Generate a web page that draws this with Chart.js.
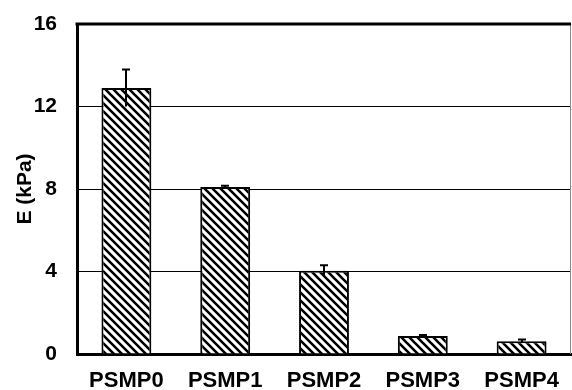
<!DOCTYPE html>
<html>
<head>
<meta charset="utf-8">
<script src="https://cdn.jsdelivr.net/npm/chart.js@4"></script>
<style>
html,body{margin:0;padding:0;background:#fff;overflow:hidden;}
#wrap{width:572px;height:390px;position:relative;}
</style>
</head>
<body>
<div id="wrap"><canvas id="c" width="572" height="390"></canvas></div>
<script>
const categories = ['PSMP0', 'PSMP1', 'PSMP2', 'PSMP3', 'PSMP4'];
const values = [12.9, 8.1, 4.04, 0.87, 0.62];
const errors = [0.9, 0.06, 0.26, 0.05, 0.08];
const yTicks = [0, 4, 8, 12, 16];
const yTitle = 'E (kPa)';

function hatch() {
  const s = 8;
  const p = document.createElement('canvas');
  p.width = s; p.height = s;
  const g = p.getContext('2d');
  g.fillStyle = '#fff';
  g.fillRect(0, 0, s, s);
  g.strokeStyle = '#000';
  g.lineWidth = 2.6;
  g.beginPath();
  g.moveTo(-1, -1); g.lineTo(s + 1, s + 1);
  g.moveTo(-1, s - 1); g.lineTo(1, s + 1);
  g.moveTo(s - 1, -1); g.lineTo(s + 1, 1);
  g.stroke();
  return g.createPattern(p, 'repeat');
}

const errorBars = {
  id: 'errorBars',
  afterDatasetsDraw(chart) {
    const ctx = chart.ctx;
    const meta = chart.getDatasetMeta(0);
    const y = chart.scales.y;
    ctx.save();
    ctx.strokeStyle = '#000';
    ctx.lineWidth = 2;
    meta.data.forEach((bar, i) => {
      const x = Math.round(bar.x);
      const hi = y.getPixelForValue(values[i] + errors[i]);
      const lo = y.getPixelForValue(values[i] - errors[i]);
      ctx.beginPath();
      ctx.moveTo(x, lo);
      ctx.lineTo(x, hi);
      ctx.moveTo(x - 4, hi);
      ctx.lineTo(x + 4, hi);
      ctx.stroke();
    });
    ctx.restore();
  }
};

const frame = {
  id: 'frame',
  afterDraw(chart) {
    const a = chart.chartArea;
    const ctx = chart.ctx;
    ctx.save();
    ctx.strokeStyle = '#888';
    ctx.lineWidth = 1;
    ctx.beginPath();
    ctx.moveTo(a.right - 0.5, a.top);
    ctx.lineTo(a.right - 0.5, a.bottom);
    ctx.stroke();
    ctx.strokeStyle = '#000';
    ctx.lineWidth = 3;
    ctx.beginPath();
    ctx.moveTo(a.left - 1.5, a.top);
    ctx.lineTo(a.right, a.top);
    ctx.stroke();
    ctx.restore();
  }
};

const fam = '"Liberation Sans", Arial, sans-serif';
const tickFont = {family: fam, size: 21, weight: 'bold'};
const xFont = {family: fam, size: 22, weight: 'bold'};
const titleFont = {family: fam, size: 21, weight: 'bold'};

new Chart(document.getElementById('c'), {
  type: 'bar',
  data: {
    labels: categories,
    datasets: [{
      data: values,
      backgroundColor: hatch(),
      borderColor: '#000',
      borderWidth: 2,
      barPercentage: 0.505,
      categoryPercentage: 1
    }]
  },
  options: {
    responsive: false,
    animation: false,
    devicePixelRatio: 1,
    layout: {padding: {left: 0, right: 1, top: 24, bottom: 0}},
    plugins: {legend: {display: false}, tooltip: {enabled: false}},
    scales: {
      x: {
        grid: {display: false, drawTicks: false},
        border: {display: true, color: '#000', width: 3},
        ticks: {color: '#000', font: xFont, padding: 14, maxRotation: 0},
        afterFit(s) { s.height = 36; s.paddingLeft = 0; s.paddingRight = 0; }
      },
      y: {
        min: 0, max: 16,
        afterBuildTicks(s) { s.ticks = yTicks.map(v => ({value: v})); },
        grid: {color: '#000', lineWidth: 1, drawTicks: false},
        border: {display: true, color: '#000', width: 3},
        ticks: {color: '#000', font: tickFont, padding: 20},
        title: {display: true, text: yTitle, color: '#000', font: titleFont, padding: {top: 13, bottom: 0}},
        afterFit(s) { s.width = 77; s.paddingTop = 0; s.paddingBottom = 0; }
      }
    }
  },
  plugins: [errorBars, frame]
});
</script>
</body>
</html>
